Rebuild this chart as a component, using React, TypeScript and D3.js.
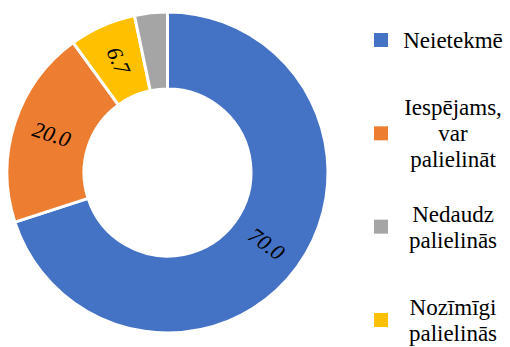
import React from "react";
import * as d3 from "d3";

const sliceLabels = ["Neietekmē", "Iespējams, var palielināt", "Nozīmīgi palielinās", "Nedaudz palielinās"];
const sliceValues = [70.0, 20.0, 6.7, 3.3];
const sliceColors = ["#4472C4", "#ED7D31", "#FFC000", "#A5A5A5"];
const showLabel = [true, true, true, false];

const legendOrder = [0, 1, 3, 2];
const legendLines = [["Neietekmē"], ["Iespējams,", "var", "palielināt"], ["Nozīmīgi", "palielinās"], ["Nedaudz", "palielinās"]];

const W = 510, H = 347;
const cx = 167.5, cy = 172.5, rOuter = 160.5, rInner = 83.5;
const FONT = '"Liberation Serif", "Times New Roman", Tinos, serif';

export default function App() {
  const pie = d3.pie<number>().sort(null).value((d) => d)(sliceValues);
  const arc = d3.arc<d3.PieArcDatum<number>>().innerRadius(rInner).outerRadius(rOuter);
  const labelArc = d3.arc<d3.PieArcDatum<number>>().innerRadius((rInner + rOuter) / 2).outerRadius((rInner + rOuter) / 2);
  const legendY = d3.scalePoint<number>().domain(d3.range(legendOrder.length)).range([40, 320]);
  const lineH = 26;
  return (
    <div style={{ fontFamily: FONT }}>
      <svg width={W} height={H} style={{ position: "absolute", left: 0, top: 0, fontFamily: FONT }}>
        <rect width={W} height={H} fill="#fff" />
        <g transform={`translate(${cx},${cy})`}>
          {pie.map((p, i) => (
            <path key={i} d={arc(p) || ""} fill={sliceColors[i]} stroke="#fff" strokeWidth={3} />
          ))}
          {pie.map((p, i) => {
            if (!showLabel[i]) return null;
            const [x, y] = labelArc.centroid(p);
            const mid = ((p.startAngle + p.endAngle) / 2) * 180 / Math.PI;
            let rot = mid - 90;
            while (rot > 90) rot -= 180;
            while (rot <= -90) rot += 180;
            return (
              <g key={i} transform={`translate(${x},${y}) rotate(${rot})`}>
                <text x={0} y={7} textAnchor="middle" style={{ fontFamily: FONT, fontStyle: "italic", fontSize: 22 }}>
                  {sliceValues[i].toFixed(1)}
                </text>
              </g>
            );
          })}
        </g>
        {legendOrder.map((idx, k) => {
          const y = legendY(k) as number;
          const lines = legendLines[idx];
          const y0 = y - ((lines.length - 1) * lineH) / 2;
          return (
            <g key={idx}>
              <rect x={374} y={y - 7} width={14} height={14} fill={sliceColors[idx]} />
              {lines.map((ln, j) => (
                <text key={j} x={453} y={y0 + j * lineH + 8} textAnchor="middle" style={{ fontFamily: FONT, fontSize: 23 }}>
                  {ln}
                </text>
              ))}
            </g>
          );
        })}
      </svg>
    </div>
  );
}
